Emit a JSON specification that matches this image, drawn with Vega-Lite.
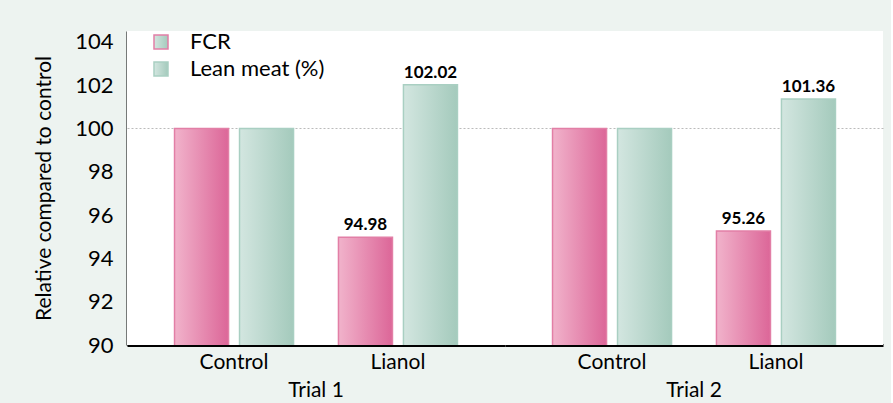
{
  "$schema": "https://vega.github.io/schema/vega-lite/v6.json",
  "background": "#edf3f0",
  "padding": {"left": 33, "top": 30, "right": 8, "bottom": 2},
  "config": {
    "view": {"fill": "white", "stroke": null},
    "font": "Lato"
  },
  "data": {
    "values": [
      {"Trial": "Trial 1", "Treatment": "Control", "Series": "FCR", "Value": 100},
      {"Trial": "Trial 1", "Treatment": "Control", "Series": "Lean meat (%)", "Value": 100},
      {"Trial": "Trial 1", "Treatment": "Lianol", "Series": "FCR", "Value": 94.98},
      {"Trial": "Trial 1", "Treatment": "Lianol", "Series": "Lean meat (%)", "Value": 102.02},
      {"Trial": "Trial 2", "Treatment": "Control", "Series": "FCR", "Value": 100},
      {"Trial": "Trial 2", "Treatment": "Control", "Series": "Lean meat (%)", "Value": 100},
      {"Trial": "Trial 2", "Treatment": "Lianol", "Series": "FCR", "Value": 95.26},
      {"Trial": "Trial 2", "Treatment": "Lianol", "Series": "Lean meat (%)", "Value": 101.36}
    ]
  },
  "facet": {
    "column": {
      "field": "Trial",
      "type": "nominal",
      "title": null,
      "header": {"labelOrient": "bottom", "labelFontSize": 21, "labelFont": "Lato", "labelColor": "black", "labelPadding": 8}
    }
  },
  "spacing": 0,
  "spec": {
    "width": 378,
    "height": 314,
    "layer": [
      {
        "mark": {"type": "bar", "strokeWidth": 1.5, "clip": true},
        "encoding": {
          "x": {
            "field": "Treatment", "type": "nominal", "sort": ["Control", "Lianol"],
            "scale": {"paddingInner": 0.274, "paddingOuter": 0.29},
            "axis": {"title": null, "labelAngle": 0, "ticks": false, "domainColor": "black", "domainWidth": 3, "labelFontSize": 21, "labelColor": "black", "labelPadding": 6}
          },
          "xOffset": {
            "field": "Series", "type": "nominal", "sort": ["FCR", "Lean meat (%)"],
            "scale": {"paddingInner": 0.169, "paddingOuter": 0}
          },
          "y": {
            "field": "Value", "type": "quantitative",
            "scale": {"domain": [90, 104.5], "nice": false, "zero": false},
            "axis": {
              "values": [90, 92, 94, 96, 98, 100, 102, 104],
              "title": "Relative compared to control",
              "titleFontSize": 21, "titleFontWeight": "normal", "titleColor": "black", "titlePadding": 20,
              "ticks": false, "domainColor": "black", "domainWidth": 2,
              "labelFontSize": 22, "labelColor": "black", "labelPadding": 14,
              "grid": true, "gridDash": [2, 2], "gridColor": "#bbbbbb",
              "gridOpacity": {"condition": {"test": "datum.value === 100", "value": 1}, "value": 0}
            }
          },
          "fill": {
            "condition": {
              "test": "datum.Series === 'FCR'",
              "value": {"gradient": "linear", "x1": 0, "y1": 0, "x2": 1, "y2": 0, "stops": [{"offset": 0, "color": "#f1b3cb"}, {"offset": 1, "color": "#dc6698"}]}
            },
            "value": {"gradient": "linear", "x1": 0, "y1": 0, "x2": 1, "y2": 0, "stops": [{"offset": 0, "color": "#d3e6e0"}, {"offset": 1, "color": "#a4cabc"}]}
          },
          "stroke": {
            "field": "Series", "type": "nominal",
            "scale": {"domain": ["FCR", "Lean meat (%)"], "range": ["#e27fa6", "#a9cfc2"]},
            "legend": {
              "title": null, "orient": "none", "legendX": 23, "legendY": 0,
              "symbolType": "square", "symbolSize": 196, "symbolStrokeWidth": 1.5,
              "labelFontSize": 22, "labelColor": "black", "labelOffset": 18, "rowPadding": 5,
              "encode": {
                "symbols": {
                  "update": {
                    "fill": [
                      {"test": "datum.value === 'FCR'", "value": {"gradient": "linear", "x1": 0, "y1": 0, "x2": 1, "y2": 0, "stops": [{"offset": 0, "color": "#f1b3cb"}, {"offset": 1, "color": "#dc6698"}]}},
                      {"value": {"gradient": "linear", "x1": 0, "y1": 0, "x2": 1, "y2": 0, "stops": [{"offset": 0, "color": "#d3e6e0"}, {"offset": 1, "color": "#a4cabc"}]}}
                    ]
                  }
                }
              }
            }
          }
        }
      },
      {
        "mark": {"type": "text", "dy": -12, "fontSize": 17, "fontWeight": "bold", "color": "black"},
        "transform": [{"filter": "datum.Treatment === 'Lianol'"}],
        "encoding": {
          "x": {"field": "Treatment", "type": "nominal", "sort": ["Control", "Lianol"]},
          "xOffset": {"field": "Series", "type": "nominal", "sort": ["FCR", "Lean meat (%)"]},
          "y": {"field": "Value", "type": "quantitative"},
          "text": {"field": "Value", "type": "quantitative", "format": ".2f"}
        }
      }
    ]
  }
}
